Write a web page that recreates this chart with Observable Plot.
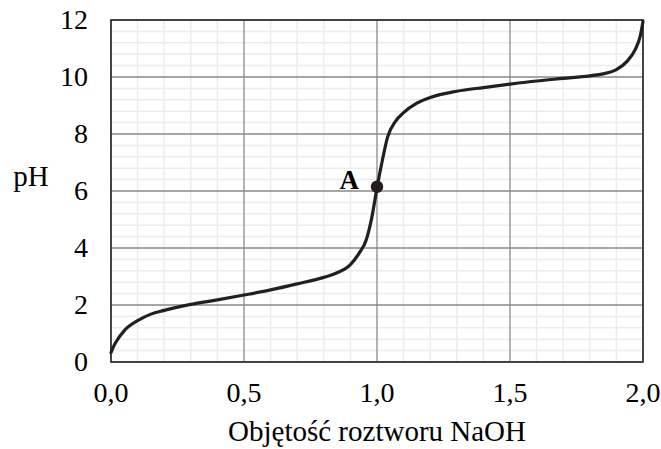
<!DOCTYPE html>
<html>
<head>
<meta charset="utf-8">
<script src="https://cdn.jsdelivr.net/npm/d3@7"></script>
<script src="https://cdn.jsdelivr.net/npm/@observablehq/plot@0.6"></script>
<style>
  html, body { margin: 0; padding: 0; background: #fff; }
  #chart { width: 661px; height: 449px; }
</style>
</head>
<body>
<div id="chart"></div>
<script>
// Titration curve: volume of NaOH vs pH
const volume = [0.00, 0.01, 0.02, 0.05, 0.10, 0.15, 0.20, 0.30, 0.40, 0.50, 0.60, 0.70, 0.80, 0.85, 0.90, 0.93, 0.96, 0.98, 1.00, 1.02, 1.04, 1.07, 1.10, 1.15, 1.20, 1.30, 1.40, 1.50, 1.60, 1.70, 1.80, 1.85, 1.90, 1.94, 1.97, 1.99, 2.00];
const pH     = [0.33, 0.55, 0.72, 1.10, 1.45, 1.68, 1.81, 2.02, 2.18, 2.35, 2.53, 2.74, 2.97, 3.13, 3.42, 3.78, 4.30, 5.05, 6.11, 7.07, 7.90, 8.45, 8.75, 9.08, 9.28, 9.50, 9.63, 9.75, 9.86, 9.95, 10.04, 10.11, 10.26, 10.55, 10.95, 11.45, 11.95];

const pointA = [{x: 1.00, y: 6.15, label: "A"}];

const xTicks = [0, 0.5, 1.0, 1.5, 2.0];
const yTicks = [0, 2, 4, 6, 8, 10, 12];
const xMinor = [0.1, 0.2, 0.3, 0.4, 0.6, 0.7, 0.8, 0.9, 1.1, 1.2, 1.3, 1.4, 1.6, 1.7, 1.8, 1.9];
const yMinor = [0.4, 0.8, 1.2, 1.6, 2.4, 2.8, 3.2, 3.6, 4.4, 4.8, 5.2, 5.6, 6.4, 6.8, 7.2, 7.6, 8.4, 8.8, 9.2, 9.6, 10.4, 10.8, 11.2, 11.6];

const xLabel = "Objętość roztworu NaOH";
const yLabel = "pH";

const curve = volume.map((v, i) => ({x: v, y: pH[i]}));
const fmt = d => d.toFixed(1).replace(".", ",");

const ink = "#231f20";

const chart = Plot.plot({
  width: 661,
  height: 449,
  marginLeft: 110.5,
  marginRight: 18.5,
  marginTop: 19.5,
  marginBottom: 87.5,
  style: {fontFamily: "'Liberation Serif', 'Times New Roman', serif", fontSize: "28px", color: "#000", background: "#fff"},
  x: {domain: [0, 2]},
  y: {domain: [0, 12]},
  marks: [
    Plot.ruleX(xMinor, {stroke: "#ececec", strokeWidth: 1.5}),
    Plot.ruleY(yMinor, {stroke: "#ececec", strokeWidth: 1.5}),
    Plot.ruleX(xTicks, {stroke: "#8a8a8a", strokeWidth: 1.3}),
    Plot.ruleY(yTicks, {stroke: "#8a8a8a", strokeWidth: 1.3}),
    Plot.frame({stroke: "#2a2a2a", strokeWidth: 1.6}),
    Plot.axisX(xTicks, {tickSize: 0, tickPadding: 20, tickFormat: fmt, fontSize: 28, label: null}),
    Plot.text([xLabel], {frameAnchor: "bottom", dy: 70, fontSize: 29, lineAnchor: "middle"}),
    Plot.axisY(yTicks, {tickSize: 0, tickPadding: 23, tickFormat: d => String(d), fontSize: 28, label: null}),
    Plot.text([yLabel], {frameAnchor: "left", dx: -80, dy: -14, fontSize: 29, textAnchor: "middle"}),
    Plot.line(curve, {x: "x", y: "y", stroke: ink, strokeWidth: 3.2, curve: "monotone-x"}),
    Plot.dot(pointA, {x: "x", y: "y", r: 5.5, fill: ink, stroke: ink}),
    Plot.text(pointA, {x: "x", y: "y", text: "label", dx: -18, dy: -6, textAnchor: "end", fontSize: 27, fontWeight: "bold", fill: "#000"})
  ]
});
document.getElementById("chart").appendChild(chart);
</script>
</body>
</html>
